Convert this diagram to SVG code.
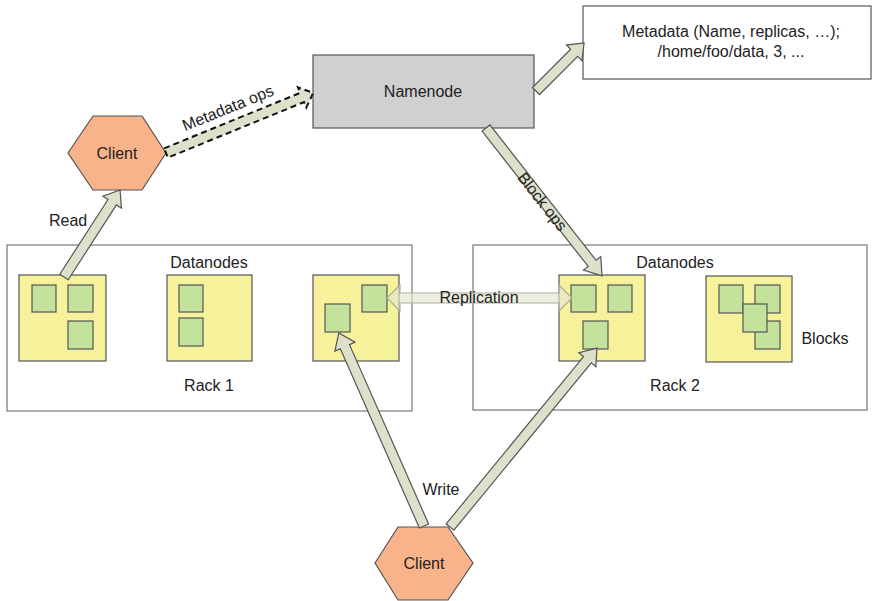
<svg xmlns="http://www.w3.org/2000/svg" width="872" height="601" viewBox="0 0 872 601">
<style>
text{font-family:"Liberation Sans",Arial,sans-serif;font-size:16px;fill:#222}
.mid{text-anchor:middle}
.rack{fill:#fff;stroke:#777;stroke-width:1.2}
.dn{fill:#f6f19b;stroke:#555;stroke-width:1.2}
.blk{fill:#c3e29c;stroke:#555;stroke-width:1.2}
.hex{fill:#f8b38a;stroke:#555;stroke-width:1.2}
.arr{fill:#dde0ca;stroke:#555;stroke-width:1.2;stroke-linejoin:miter}
.dash{fill:#dde0ca;stroke:#111;stroke-width:2;stroke-dasharray:6 4}
.rep{fill:#e3e7d2;fill-opacity:0.65;stroke:#a9af95;stroke-width:1.2}
</style>
<rect width="872" height="601" fill="#fff"/>

<g id="metadata">
<rect x="583" y="6" width="288" height="73" fill="#fff" stroke="#555" stroke-width="1.2"/>
<text class="mid" x="731" y="37">Metadata (Name, replicas, …);</text>
<text class="mid" x="731" y="57">/home/foo/data, 3, ...</text>
</g>

<g id="namenode">
<rect x="313" y="55" width="221" height="73" fill="#d0d0d0" stroke="#555" stroke-width="1.2"/>
<text class="mid" x="423" y="97">Namenode</text>
</g>

<g id="rack1">
<rect class="rack" x="7" y="245" width="405" height="166"/>
<text class="mid" x="209" y="268">Datanodes</text>
<text class="mid" x="209" y="391">Rack 1</text>
</g>
<g id="rack2">
<rect class="rack" x="473" y="245" width="394" height="165"/>
<text class="mid" x="675" y="268">Datanodes</text>
<text class="mid" x="675" y="391">Rack 2</text>
<text class="mid" x="825" y="344">Blocks</text>
</g>

<g id="dn1">
<rect class="dn" x="19" y="275" width="87" height="86"/>
<rect class="blk" x="32" y="285" width="24" height="27"/>
<rect class="blk" x="68" y="285" width="25" height="27"/>
<rect class="blk" x="68" y="321" width="25" height="28"/>
</g>
<g id="dn2">
<rect class="dn" x="167" y="275" width="85" height="86"/>
<rect class="blk" x="179" y="285" width="24" height="27"/>
<rect class="blk" x="179" y="318" width="24" height="28"/>
</g>
<g id="dn3">
<rect class="dn" x="313" y="275" width="86" height="86"/>
<rect class="blk" x="362" y="285" width="25" height="27"/>
<rect class="blk" x="325" y="304" width="25" height="28"/>
</g>
<g id="dn4">
<rect class="dn" x="559" y="275" width="86" height="86"/>
<rect class="blk" x="571" y="285" width="25" height="27"/>
<rect class="blk" x="608" y="285" width="24" height="27"/>
<rect class="blk" x="583" y="321" width="25" height="28"/>
</g>
<g id="dn5">
<rect class="dn" x="706" y="276" width="86" height="86"/>
<rect class="blk" x="719" y="285" width="24" height="28"/>
<rect class="blk" x="755" y="285" width="25" height="28"/>
<rect class="blk" x="755" y="321" width="25" height="28"/>
<rect class="blk" x="743" y="304" width="24" height="28"/>
</g>

<g id="client-top">
<polygon class="hex" points="68,153 93,116 142,116 166,153 142,190 93,190"/>
<text class="mid" x="117" y="159">Client</text>
</g>
<g id="client-bottom">
<polygon class="hex" points="375,563 398,527 448,527 473,563 448,600 398,600"/>
<text class="mid" x="424" y="569">Client</text>
</g>

<g id="connectors">
<polygon class="dash" transform="translate(166,153) rotate(-22.2)" points="0,-5 147,-5 147,-11 159,0 147,11 147,5 0,5"/>
<polygon class="arr" transform="translate(64,277) rotate(-57.2)" points="0,-5 89,-5 89,-11 103.5,0 89,11 89,5 0,5"/>
<polygon class="arr" transform="translate(486,128) rotate(51.9)" points="0,-5 172,-5 172,-11 188,0 172,11 172,5 0,5"/>
<polygon class="arr" transform="translate(536,91) rotate(-45)" points="0,-5 54,-5 54,-11 68,0 54,11 54,5 0,5"/>
<polygon class="arr" transform="translate(424,526) rotate(-113.8)" points="0,-5 196,-5 196,-11 211,0 196,11 196,5 0,5"/>
<polygon class="arr" transform="translate(450,527) rotate(-50.6)" points="0,-5 216.5,-5 216.5,-11 231.5,0 216.5,11 216.5,5 0,5"/>
<polygon class="rep" points="387,298 400,285 400,293 559,293 559,285 572,298 559,311 559,303 400,303 400,311"/>
</g>

<g id="labels">
<text class="mid" transform="translate(230,113) rotate(-22.2)">Metadata ops</text>
<text x="49" y="226">Read</text>
<text class="mid" x="479" y="303">Replication</text>
<text class="mid" transform="translate(542,202) rotate(51.9)" dy="5">Block ops</text>
<text class="mid" x="441" y="495">Write</text>
</g>
</svg>
